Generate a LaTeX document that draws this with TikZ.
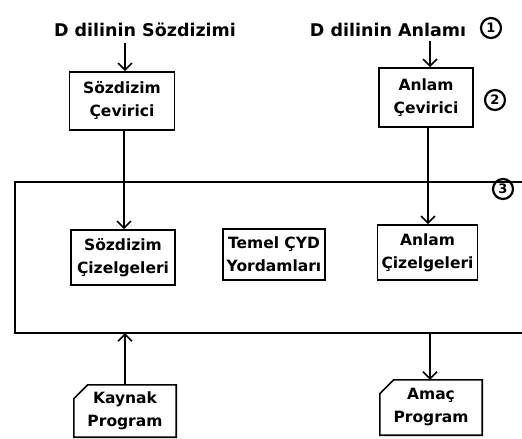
\documentclass[tikz,border=0pt]{standalone}
\usepackage{fontspec}
\setmainfont{DejaVu Sans}
\usetikzlibrary{arrows.meta}
\tikzset{
  ln/.style={line width=1.6pt},
  arr/.style={ln,-{Straight Barb[length=7pt,width=14pt,line width=1.6pt]}},
  txt/.style={font=\bfseries\fontsize{15.5}{23}\selectfont, align=left},
  toplbl/.style={font=\bfseries\fontsize{17.5}{23}\selectfont},
  boxn/.style={txt, draw, ln, inner sep=0pt, align=center},
  cardn/.style={txt, inner sep=0pt, align=center},
  num/.style={circle, draw, line width=2.2pt, inner sep=0.6pt, minimum size=20pt, font=\bfseries\fontsize{13}{13}\selectfont}
}
\begin{document}
\begin{tikzpicture}[x=1pt,y=-1pt]
\useasboundingbox (0,0) rectangle (522,439);
% top labels
\node[toplbl] (ls) at (145,30) {D dilinin Sözdizimi};
\node[toplbl] (la) at (388,30) {D dilinin Anlamı};
\node[num] (n1) at (491,28) {1};
% translators
\node[boxn, minimum width=105pt, minimum height=58pt] (sc) at (122,101) {Sözdizim\\Çevirici};
\node[boxn, minimum width=94pt, minimum height=59pt] (ac) at (426,97.5) {Anlam\\Çevirici};
\node[num] (n2) at (495,100) {2};
% frame
\coordinate (ftl) at (15,182);
\coordinate (ftr) at (522,182);
\coordinate (fbl) at (15,333);
\coordinate (fbr) at (522,333);
\draw[ln] (ftr) -- (ftl) -- (fbl) -- (fbr);
\node[num] (n3) at (503,189) {3};
% tables
\node[boxn, minimum width=104pt, minimum height=55pt] (sz) at (123,257.5) {Sözdizim\\Çizelgeleri};
\node[boxn, minimum width=102pt, minimum height=51pt] (tm) at (274,254.5) {Temel ÇYD\\Yordamları};
\node[boxn, minimum width=100pt, minimum height=55pt] (az) at (427.5,252.5) {Anlam\\Çizelgeleri};
% cards
\node[cardn, minimum width=102pt, minimum height=52pt] (kp) at (125,411) {Kaynak\\Program};
\node[cardn, minimum width=102pt, minimum height=55pt] (ap) at (431,407.5) {Amaç\\Program};
\draw[ln] ([yshift=-14pt]kp.north west) -- ([xshift=14pt]kp.north west) -- (kp.north east) -- (kp.south east) -- (kp.south west) -- cycle;
\draw[ln] ([yshift=-14pt]ap.north west) -- ([xshift=14pt]ap.north west) -- (ap.north east) -- (ap.south east) -- (ap.south west) -- cycle;
\coordinate (kin) at (125,333);
\coordinate (aout) at (430,333);
% arrows
\draw[arr] (ls.south -| sc.north) ++(3,3) coordinate (ls1) -- (ls1 |- sc.north);
\draw[arr] (la.south -| ac.north) ++(4,1) coordinate (la1) -- (la1 |- ac.north);
\draw[arr] ([xshift=2pt]sc.south) -- ([xshift=2pt]sc.south |- sz.north);
\draw[arr] ([xshift=2pt]ac.south) -- ([xshift=2pt]ac.south |- az.north);
\draw[arr] (kp.north) -- (kin);
\draw[arr] (aout) -- (aout |- ap.north);
\end{tikzpicture}
\end{document}
